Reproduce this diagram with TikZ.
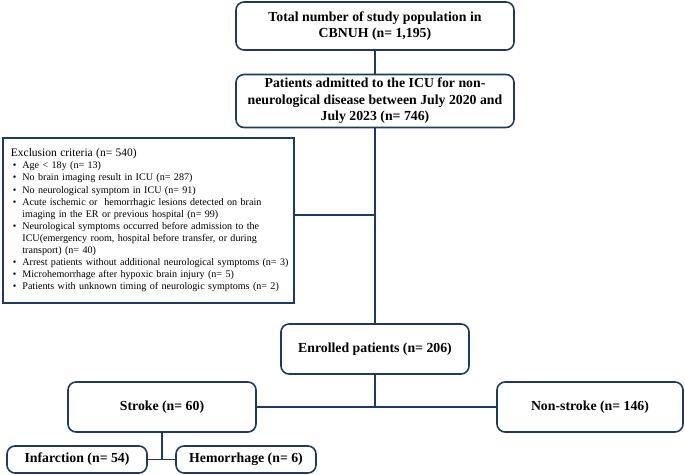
\documentclass[tikz,border=0pt]{standalone}
\usepackage{fontspec}
\setmainfont{Liberation Serif}
\definecolor{navy}{HTML}{1F3864}
\newcommand\bul{\hspace*{2pt}\makebox[9.5pt][l]{\textbullet}}
\newcommand\cont{\hspace*{11.5pt}}
\begin{document}
\begin{tikzpicture}[x=1pt,y=-1pt,
  box/.style={draw=navy, line width=1.6pt, rounded corners=8pt, align=center,
    font=\bfseries\fontsize{13.8}{16.5}\selectfont, inner sep=0pt},
  exbox/.style={draw=navy, line width=1.8pt, align=left, inner sep=0pt,
    font=\fontsize{10.1}{12.1}\selectfont},
  link/.style={draw=navy, line width=1.6pt}]
\useasboundingbox (0,0) rectangle (685,474);
\node[box, minimum width=278, minimum height=48] (total) at (375,26) {Total number of study population in\\CBNUH (n= 1,195)};
\node[box, minimum width=278, minimum height=53] (icu) at (375,101) {Patients admitted to the ICU for non-\\neurological disease between July 2020 and\\July 2023 (n= 746)};
\node[exbox, minimum width=291, minimum height=165, anchor=north west, text width=285] (excl) at (2,137)
 {\hspace*{5pt}{\fontsize{11.5}{12.1}\selectfont Exclusion criteria (n= 540)}\\
  \hspace*{5pt}\bul Age < 18y (n= 13)\\
  \hspace*{5pt}\bul No brain imaging result in ICU (n= 287)\\
  \hspace*{5pt}\bul No neurological symptom in ICU (n= 91)\\
  \hspace*{5pt}\bul Acute ischemic or\ \ hemorrhagic lesions detected on brain\\
  \hspace*{5pt}\cont imaging in the ER or previous hospital (n= 99)\\
  \hspace*{5pt}\bul Neurological symptoms occurred before admission to the\\
  \hspace*{5pt}\cont ICU(emergency room, hospital before transfer, or during\\
  \hspace*{5pt}\cont transport) (n= 40)\\
  \hspace*{5pt}\bul Arrest patients without additional neurological symptoms (n= 3)\\
  \hspace*{5pt}\bul Microhemorrhage after hypoxic brain injury (n= 5)\\
  \hspace*{5pt}\bul Patients with unknown timing of neurologic symptoms (n= 2)};
\node[box, minimum width=188, minimum height=50] (enr) at (375,349) {Enrolled patients (n= 206)};
\node[box, minimum width=188, minimum height=50] (stroke) at (162,407) {Stroke (n= 60)};
\node[box, minimum width=186, minimum height=50] (non) at (590,407) {Non-stroke (n= 146)};
\node[box, minimum width=140, minimum height=27] (inf) at (77,459.5) {Infarction (n= 54)};
\node[box, minimum width=140, minimum height=27] (hem) at (246,459.5) {Hemorrhage (n= 6)};
\coordinate (j1) at (375,215);
\coordinate (j2) at (375,407);
\coordinate (j3) at (162,459.5);
\draw[link] (total) -- (icu);
\draw[link] (icu) -- (enr);
\draw[link] (excl.east |- j1) -- (j1);
\draw[link] (enr) -- (j2);
\draw[link] (stroke) -- (non);
\draw[link] (stroke) -- (j3);
\draw[link] (inf) -- (hem);
\end{tikzpicture}
\end{document}
